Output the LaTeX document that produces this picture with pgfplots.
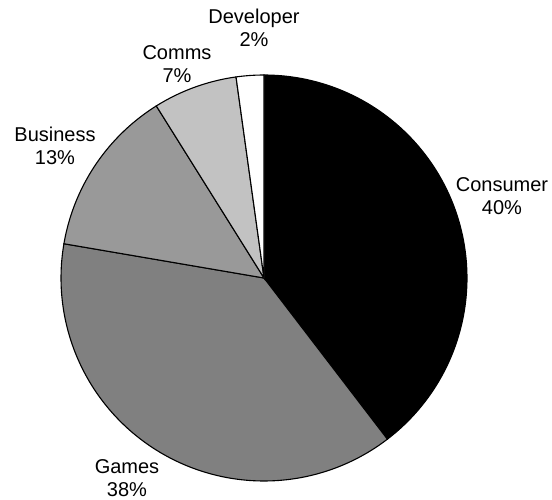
\documentclass[border=0pt]{standalone}
\usepackage{pgfplots}
\pgfplotsset{compat=1.18}
\usepackage{fontspec}
\setmainfont{Liberation Sans}
\definecolor{gGames}{gray}{0.50}
\definecolor{gBusiness}{gray}{0.60}
\definecolor{gComms}{gray}{0.76}
\begin{document}
\begin{tikzpicture}
\begin{axis}[
  x=1pt, y=1pt,
  xmin=-264, xmax=288, ymin=-221, ymax=278,
  hide axis, clip=false,
  scale only axis,
]
% shares (percent): Consumer 39.6, Games 38.1, Business 13.4, Comms 6.7, Developer 2.2
% wedges run clockwise from 12 o'clock
\addplot[fill=black, draw=black, line width=1.1pt, domain={90-3.6*39.6}:{90}, samples=120, variable=\t]
  ({203*cos(t)},{203*sin(t)}) -- (axis cs:0,0) -- cycle;
\addplot[fill=gGames, draw=black, line width=1.1pt, domain={90-3.6*(39.6+38.1)}:{90-3.6*39.6}, samples=120, variable=\t]
  ({203*cos(t)},{203*sin(t)}) -- (axis cs:0,0) -- cycle;
\addplot[fill=gBusiness, draw=black, line width=1.1pt, domain={90-3.6*(39.6+38.1+13.4)}:{90-3.6*(39.6+38.1)}, samples=60, variable=\t]
  ({203*cos(t)},{203*sin(t)}) -- (axis cs:0,0) -- cycle;
\addplot[fill=gComms, draw=black, line width=1.1pt, domain={90-3.6*(39.6+38.1+13.4+6.7)}:{90-3.6*(39.6+38.1+13.4)}, samples=40, variable=\t]
  ({203*cos(t)},{203*sin(t)}) -- (axis cs:0,0) -- cycle;
\addplot[fill=white, draw=black, line width=1.1pt, domain={90-3.6*100}:{90-3.6*(39.6+38.1+13.4+6.7)}, samples=20, variable=\t]
  ({203*cos(t)},{203*sin(t)}) -- (axis cs:0,0) -- cycle;
% labels
\begin{scope}[every node/.style={font=\fontsize{20}{23}\selectfont, anchor=base, inner sep=0pt}]
\node at (axis cs:238,86) {Consumer};
\node at (axis cs:238,63) {40\%};
\node at (axis cs:-137,-195) {Games};
\node at (axis cs:-137,-218) {38\%};
\node at (axis cs:-209,136) {Business};
\node at (axis cs:-209,113) {13\%};
\node at (axis cs:-87,218) {Comms};
\node at (axis cs:-87,195) {7\%};
\node at (axis cs:-10,254) {Developer};
\node at (axis cs:-10,231) {2\%};
\end{scope}
\path[use as bounding box] (axis cs:-264,-221) rectangle (axis cs:288,278);
\end{axis}
\end{tikzpicture}
\end{document}
